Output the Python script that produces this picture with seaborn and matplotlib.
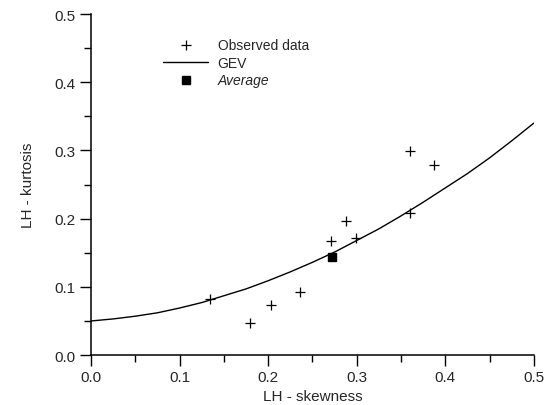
import numpy as np
import pandas as pd
import matplotlib
matplotlib.use("Agg")
import matplotlib.pyplot as plt
import seaborn as sns

# observed LH-moment ratios
obs_skew = [0.134, 0.179, 0.203, 0.236, 0.271, 0.288, 0.299, 0.360, 0.360, 0.387]
obs_kurt = [0.082, 0.047, 0.073, 0.093, 0.167, 0.197, 0.171, 0.209, 0.299, 0.279]

# average point
avg_skew = [0.272]
avg_kurt = [0.144]

# GEV theoretical curve
gev_skew = [0.0, 0.025, 0.05, 0.075, 0.1, 0.125, 0.15, 0.175, 0.2, 0.225, 0.25,
            0.275, 0.3, 0.325, 0.35, 0.375, 0.4, 0.425, 0.45, 0.475, 0.5]
gev_kurt = [0.050, 0.053, 0.057, 0.062, 0.069, 0.077, 0.087, 0.097, 0.109, 0.122, 0.136,
            0.151, 0.168, 0.185, 0.204, 0.224, 0.245, 0.266, 0.289, 0.314, 0.340]

sns.set_style("ticks")
plt.rcParams['font.family'] = ['Liberation Sans', 'DejaVu Sans']

fig = plt.figure(figsize=(5.56, 4.06), dpi=100)
ax = fig.add_axes([0.164, 0.123, 0.796, 0.840])

df_gev = pd.DataFrame({'x': gev_skew, 'y': gev_kurt})
sns.lineplot(data=df_gev, x='x', y='y', ax=ax, color='black', lw=1.0, label='GEV')
ax.plot(obs_skew, obs_kurt, ls='none', marker='+', ms=7, mew=0.9, color='black',
        label='Observed data')
ax.plot(avg_skew, avg_kurt, ls='none', marker='s', ms=6, color='black', label='Average')

ax.set_xlim(0, 0.5)
ax.set_ylim(0, 0.5)
ticks = np.arange(0, 0.51, 0.1)
ax.set_xticks(ticks)
ax.set_yticks(ticks)
ax.set_xticks(np.arange(0.05, 0.5, 0.1), minor=True)
ax.set_yticks(np.arange(0.05, 0.5, 0.1), minor=True)
ax.set_xticklabels([f'{v:.1f}' for v in ticks])
ax.set_yticklabels([f'{v:.1f}' for v in ticks])
ax.tick_params(axis='both', which='major', length=8, width=1, labelsize=11, color='black', pad=3)
ax.tick_params(axis='both', which='minor', length=5, width=1, color='black')
for s in ['top', 'right']:
    ax.spines[s].set_visible(False)
for s in ['left', 'bottom']:
    ax.spines[s].set_color('black')
    ax.spines[s].set_linewidth(1.1)

ax.set_xlabel('LH - skewness', fontsize=11, labelpad=3)
ax.set_ylabel('LH - kurtosis', fontsize=11, labelpad=14)

handles, labels = ax.get_legend_handles_labels()
order = [labels.index('Observed data'), labels.index('GEV'), labels.index('Average')]
leg = ax.legend([handles[i] for i in order], [labels[i] for i in order],
                loc='upper left', bbox_to_anchor=(0.135, 0.965), frameon=False,
                fontsize=10, handlelength=3.2, labelspacing=0.25, handletextpad=0.7)
leg.get_texts()[2].set_style('italic')

fig.savefig('out.png', dpi=100)
